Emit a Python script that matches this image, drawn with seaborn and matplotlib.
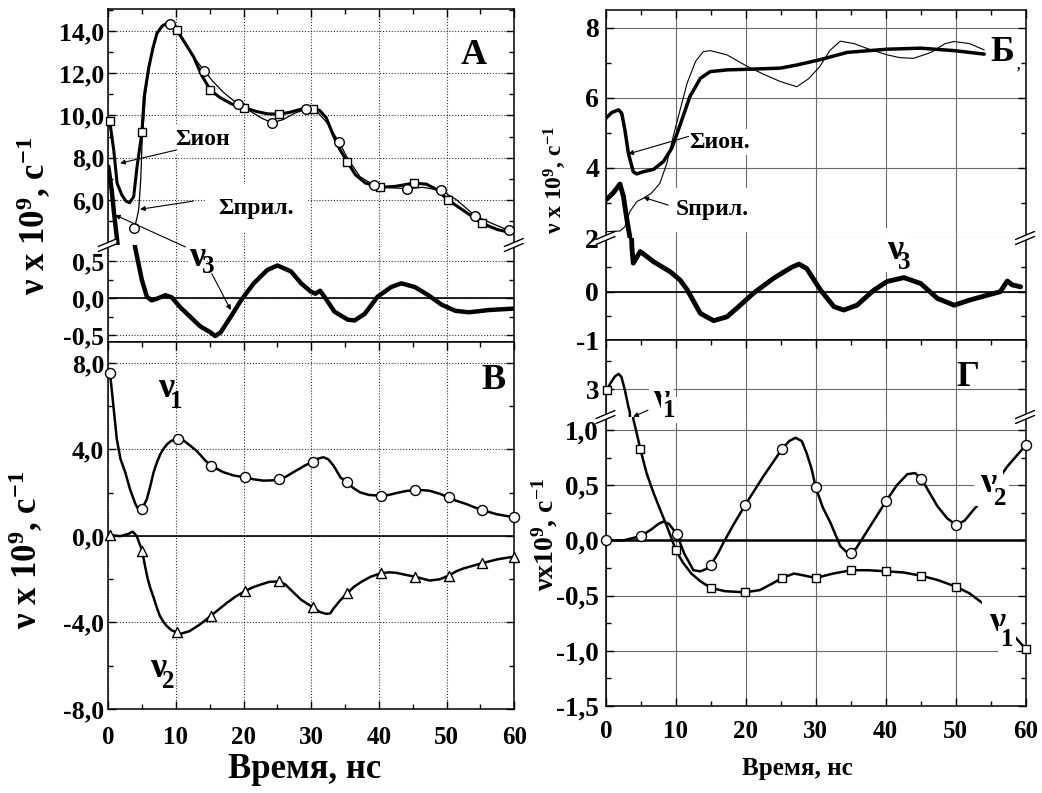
import matplotlib
matplotlib.use("Agg")
import matplotlib.pyplot as plt
import seaborn as sns
from matplotlib.lines import Line2D
from matplotlib.patches import Polygon

# ---------------- data ----------------
x_ticks = [0, 10, 20, 30, 40, 50, 60]
x_tick_labels = ["0", "10", "20", "30", "40", "50", "60"]
x_minor = [5, 15, 25, 35, 45, 55]

# Panel A (upper: sums, lower: nu3)
a_ion_x = [0.2, 0.8, 1.3, 2.0, 2.6, 3.15, 3.75, 4.25, 4.97, 5.3, 6.0, 6.6, 7.2, 8.0, 8.8, 9.5, 10.1, 11.2, 12.6, 13.8,
           15.1, 16.5, 18.2, 20.1, 22.0, 23.5, 25.2, 26.8, 28.5, 30.2, 31.2, 32.2, 33.2, 34.2, 35.3, 36.5, 38.0, 40.2,
           42.5, 45.2, 47.0, 48.5, 50.2, 52.5, 55.2, 57.5, 60.0]
a_ion_y = [9.75, 8.37, 6.79, 6.24, 5.95, 5.87, 6.16, 7.58, 9.20, 10.9, 12.3, 13.2, 13.9, 14.25, 14.37, 14.3, 14.05, 13.5,
           12.78, 11.9, 11.2, 10.85, 10.55, 10.37, 10.18, 10.08, 10.06, 10.15, 10.3, 10.3, 10.25, 9.9, 9.1, 8.4, 7.82,
           7.2, 6.8, 6.6, 6.65, 6.8, 6.75, 6.5, 6.0, 5.5, 4.9, 4.6, 4.42]
a_ion_mx = [0.2, 4.97, 10.1, 15.1, 20.1, 25.2, 30.2, 35.3, 40.2, 45.2, 50.2, 55.2]
a_ion_my = [9.75, 9.2, 14.05, 11.2, 10.37, 10.06, 10.3, 7.82, 6.6, 6.8, 6.0, 4.9]

a_pril_x = [3.83, 4.2, 4.5, 4.8, 5.0, 5.5, 6.2, 7.2, 8.2, 9.1, 10.2, 11.5, 12.8, 14.2, 15.5, 17.0, 19.1, 21.0, 22.8,
            24.2, 25.8, 27.5, 29.2, 30.8, 32.2, 34.1, 35.5, 37.2, 39.2, 41.5, 44.2, 46.5, 49.2, 51.5, 54.2, 57.0,
            59.2, 60.0]
a_pril_y = [4.69, 5.1, 5.56, 7.0, 8.8, 11.0, 12.6, 13.9, 14.3, 14.35, 14.0, 13.3, 12.7, 12.1, 11.6, 11.1, 10.55, 10.2,
            9.85, 9.66, 9.8, 10.1, 10.3, 10.2, 9.7, 8.74, 7.9, 7.1, 6.72, 6.58, 6.54, 6.6, 6.45, 6.0, 5.25, 4.85,
            4.56, 4.45]
a_pril_mx = [3.83, 9.1, 14.2, 19.1, 24.2, 29.2, 34.1, 39.2, 44.2, 49.2, 54.2, 59.2]
a_pril_my = [4.69, 14.35, 12.1, 10.55, 9.66, 10.3, 8.74, 6.72, 6.54, 6.45, 5.25, 4.56]

a_nu3_x = [0.0, 0.5, 0.85, 1.25, 1.5, 3.7, 3.95, 4.95, 5.7, 6.4, 7.4, 8.4, 9.4, 10.6, 12.1, 13.6, 15.1, 15.8, 16.6,
           18.1, 19.6, 21.5, 23.5, 25.0, 27.0, 28.5, 29.9, 30.6, 31.3, 32.1, 33.4, 35.4, 36.4, 37.9, 39.8, 41.8,
           43.3, 45.3, 47.3, 49.3, 51.3, 53.3, 56.2, 60.0]
a_nu3_y = [7.58, 6.47, 5.37, 4.26, 3.5, 0.9, 0.69, 0.25, 0.02, -0.03, 0.0, 0.04, 0.01, -0.12, -0.25, -0.38, -0.46,
           -0.51, -0.46, -0.25, -0.03, 0.2, 0.38, 0.44, 0.36, 0.2, 0.09, 0.06, 0.1, 0.0, -0.18, -0.29, -0.3, -0.21,
           0.02, 0.15, 0.2, 0.15, 0.04, -0.09, -0.17, -0.19, -0.16, -0.14]

a_top_ticks = [6, 8, 10, 12, 14]
a_top_labels = ["6,0", "8,0", "10,0", "12,0", "14,0"]
a_bot_ticks = [-0.5, 0.0, 0.5]
a_bot_labels = ["-0,5", "0,0", "0,5"]

# Panel В: nu1, nu2
v_nu1_x = [0.25, 0.75, 1.25, 1.8, 2.5, 3.2, 4.0, 4.5, 5.0, 5.7, 6.2, 6.7, 7.2, 7.7, 8.2, 8.7, 9.3, 10.3, 11.2, 12.1,
           13.0, 13.6, 14.3, 15.2, 16.2, 17.0, 18.5, 20.2, 21.5, 22.9, 24.2, 25.3, 26.3, 27.3, 28.2, 29.0, 30.2,
           31.0, 31.8, 32.5, 33.3, 34.3, 35.3, 36.2, 37.2, 38.5, 40.3, 41.5, 42.5, 44.0, 45.3, 46.5, 47.5, 49.0,
           50.3, 51.5, 52.9, 54.0, 55.2, 57.5, 60.0]
v_nu1_y = [7.54, 6.03, 4.49, 3.56, 2.95, 2.17, 1.48, 1.2, 1.25, 1.71, 2.3, 2.95, 3.42, 3.79, 4.05, 4.25, 4.4, 4.49,
           4.4, 4.18, 3.95, 3.75, 3.5, 3.25, 3.08, 2.95, 2.8, 2.71, 2.62, 2.56, 2.57, 2.63, 2.75, 2.94, 3.1, 3.25,
           3.43, 3.58, 3.64, 3.55, 3.25, 2.71, 2.48, 2.22, 2.02, 1.9, 1.86, 1.9, 1.98, 2.08, 2.12, 2.12, 2.09, 1.95,
           1.78, 1.62, 1.48, 1.34, 1.2, 1.0, 0.86]
v_nu1_mx = [0.25, 5.0, 10.3, 15.2, 20.2, 25.3, 30.2, 35.3, 40.3, 45.3, 50.3, 55.2, 60.0]
v_nu1_my = [7.54, 1.25, 4.49, 3.25, 2.71, 2.63, 3.43, 2.48, 1.86, 2.12, 1.78, 1.2, 0.86]

v_nu2_x = [0.25, 1.75, 3.0, 3.6, 4.2, 5.0, 5.4, 5.8, 6.2, 6.7, 7.1, 7.6, 8.1, 8.6, 9.3, 10.6, 12.0, 13.5, 15.2, 16.3,
           17.5, 18.8, 20.2, 21.3, 22.5, 23.8, 25.3, 26.2, 27.0, 28.5, 30.2, 31.3, 32.2, 32.8, 33.3, 34.2, 35.3,
           36.3, 37.5, 38.8, 40.3, 41.5, 42.5, 44.0, 45.3, 46.5, 47.5, 49.0, 50.3, 51.5, 52.5, 55.2, 57.5, 60.0]
v_nu2_y = [0.05, -0.01, 0.1, 0.2, 0.0, -0.68, -1.35, -1.95, -2.4, -2.85, -3.25, -3.68, -3.95, -4.15, -4.35, -4.53,
           -4.4, -4.1, -3.68, -3.4, -3.1, -2.8, -2.55, -2.38, -2.25, -2.12, -2.1, -2.25, -2.5, -2.95, -3.29, -3.52,
           -3.6, -3.58, -3.35, -3.0, -2.65, -2.35, -2.1, -1.88, -1.72, -1.68, -1.7, -1.8, -1.88, -1.98, -2.06, -2.0,
           -1.83, -1.62, -1.5, -1.26, -1.08, -0.95]
v_nu2_mx = [0.25, 5.0, 10.2, 15.2, 20.2, 25.3, 30.2, 35.3, 40.3, 45.3, 50.3, 55.2, 60.0]
v_nu2_my = [0.05, -0.68, -4.45, -3.68, -2.55, -2.1, -3.29, -2.65, -1.72, -1.88, -1.83, -1.26, -0.95]

v_ticks = [-8, -4, 0, 4, 8]
v_labels = ["-8,0", "-4,0", "0,0", "4,0", "8,0"]

# Panel Б
b_ion_x = [0.0, 0.8, 1.8, 2.25, 2.7, 3.2, 3.9, 4.4, 5.3, 6.8, 8.2, 9.4, 10.6, 12.0, 13.5, 14.9, 17.3, 20.6, 24.9,
           27.3, 30.6, 34.5, 40.2, 45.0, 49.8, 54.1]
b_ion_y = [5.42, 5.58, 5.66, 5.56, 5.09, 4.42, 3.89, 3.83, 3.89, 3.96, 4.18, 4.56, 5.23, 6.04, 6.56, 6.75, 6.8, 6.82,
           6.85, 6.94, 7.09, 7.3, 7.39, 7.42, 7.35, 7.25]
b_pril_x = [0.0, 2.0, 2.7, 3.4, 4.4, 5.3, 6.5, 7.7, 8.7, 9.6, 10.6, 11.6, 12.8, 13.9, 14.9, 17.3, 20.2, 22.5, 24.9,
            27.3, 29.0, 30.6, 32.0, 33.5, 35.5, 37.5, 40.2, 42.0, 44.0, 46.5, 48.5, 49.8, 52.0, 54.1]
b_pril_y = [2.18, 2.2, 2.32, 2.75, 3.04, 3.13, 3.28, 3.56, 4.13, 4.89, 5.66, 6.42, 7.04, 7.32, 7.35, 7.23, 6.9, 6.68,
            6.47, 6.32, 6.55, 6.9, 7.35, 7.62, 7.55, 7.4, 7.23, 7.15, 7.13, 7.3, 7.55, 7.61, 7.55, 7.37]
b_nu3_x = [0.0, 1.0, 2.0, 2.5, 3.0, 3.4, 3.7, 3.9, 4.9, 6.8, 9.2, 10.6, 11.6, 13.5, 15.4, 17.3, 19.2, 21.1, 24.0,
           26.5, 27.6, 28.7, 30.7, 32.6, 34.0, 35.9, 38.3, 40.2, 42.6, 45.0, 47.4, 49.8, 52.1, 56.4, 57.4, 58.1, 59.3]
b_nu3_y = [3.09, 3.28, 3.54, 3.18, 2.51, 2.04, 0.93, 0.59, 0.83, 0.62, 0.41, 0.24, 0.04, -0.45, -0.6, -0.52, -0.28,
           -0.03, 0.28, 0.5, 0.57, 0.48, 0.03, -0.31, -0.38, -0.28, 0.03, 0.21, 0.29, 0.17, -0.14, -0.28, -0.17, 0.0,
           0.22, 0.14, 0.1]
b_top_ticks = [2, 4, 6, 8]
b_top_labels = ["2", "4", "6", "8"]
b_bot_ticks = [-1, 0]
b_bot_labels = ["-1", "0"]

# Panel Г
g_nu1_x = [0.1, 0.6, 1.3, 1.8, 2.2, 2.7, 3.2, 3.4, 3.9, 4.4, 4.9, 5.8, 6.8, 7.8, 8.7, 10.0, 11.0, 12.2, 13.5, 15.0,
           17.0, 19.9, 22.0, 23.8, 25.2, 26.9, 28.5, 30.0, 32.5, 35.1, 37.5, 40.1, 42.5, 45.1, 47.5, 50.1, 52.0,
           54.1, 56.0, 58.0, 60.0]
g_nu1_y = [2.99, 3.1, 3.23, 3.27, 3.22, 2.99, 2.7, 2.61, 1.1, 0.97, 0.83, 0.61, 0.43, 0.27, 0.13, -0.09, -0.2, -0.3,
           -0.37, -0.43, -0.46, -0.47, -0.45, -0.39, -0.34, -0.3, -0.32, -0.34, -0.3, -0.27, -0.27, -0.28, -0.29,
           -0.32, -0.36, -0.42, -0.48, -0.58, -0.7, -0.84, -0.98]
g_nu1_top_mx = [0.1]
g_nu1_top_my = [2.99]
g_nu1_mx = [4.9, 10.0, 15.0, 19.9, 25.2, 30.0, 35.1, 40.1, 45.1, 50.1, 60.0]
g_nu1_my = [0.83, -0.09, -0.43, -0.47, -0.34, -0.34, -0.27, -0.28, -0.32, -0.42, -0.98]
g_nu2_x = [0.0, 2.5, 5.0, 6.5, 7.5, 8.2, 9.0, 10.1, 11.2, 12.5, 13.5, 14.3, 15.0, 16.0, 16.8, 18.3, 19.9, 21.2, 22.5,
           23.8, 25.2, 26.2, 27.1, 28.0, 28.7, 29.4, 30.0, 31.0, 32.1, 33.5, 34.3, 35.1, 35.8, 36.5, 38.3, 40.1,
           41.6, 43.1, 44.2, 45.1, 46.2, 47.4, 48.8, 50.1, 51.3, 52.6, 55.0, 57.4, 60.0]
g_nu2_y = [0.0, 0.0, 0.04, 0.1, 0.15, 0.17, 0.15, 0.06, -0.12, -0.27, -0.28, -0.26, -0.22, -0.12, -0.02, 0.15, 0.32,
           0.45, 0.58, 0.7, 0.83, 0.9, 0.93, 0.9, 0.79, 0.65, 0.48, 0.3, 0.16, -0.05, -0.1, -0.11, -0.07, 0.0, 0.18,
           0.36, 0.5, 0.6, 0.61, 0.56, 0.44, 0.31, 0.2, 0.14, 0.18, 0.28, 0.45, 0.67, 0.86]
g_nu2_mx = [0.0, 5.0, 10.1, 15.0, 19.9, 25.2, 30.0, 35.1, 40.1, 45.1, 50.1, 60.0]
g_nu2_my = [0.0, 0.04, 0.06, -0.22, 0.32, 0.83, 0.48, -0.11, 0.36, 0.56, 0.14, 0.86]
g_top_ticks = [3]
g_top_labels = ["3"]
g_bot_ticks = [-1.5, -1.0, -0.5, 0.0, 0.5, 1.0]
g_bot_labels = ["-1,5", "-1,0", "-0,5", "0,0", "0,5", "1,0"]

# ---------------- style ----------------
sns.set_theme(style="white")
plt.rcParams.update({
    "font.family": ["Liberation Serif", "DejaVu Serif"],
    "font.weight": "bold",
    "mathtext.fontset": "custom",
    "mathtext.rm": "Liberation Serif:bold",
    "mathtext.it": "Liberation Serif:bold:italic",
    "mathtext.bf": "Liberation Serif:bold",
    "mathtext.default": "rm",
    "axes.edgecolor": "black",
    "axes.linewidth": 1.1,
    "text.color": "black",
    "xtick.color": "black",
    "ytick.color": "black",
})

W, H = 1042, 793
fig = plt.figure(figsize=(W / 100, H / 100), dpi=100)


def px_axes(x0, y0, x1, y1):
    return fig.add_axes([x0 / W, 1 - y1 / H, (x1 - x0) / W, (y1 - y0) / H])


def style(ax, ylim, yt, yl, ymin, dotted, tsize, xlab=False, top=True, bottom=True,
          sp_top=True, sp_bot=True, xpad=12, ypad=3, xsize=18):
    ax.set_xlim(0, 60)
    ax.set_ylim(*ylim)
    ax.set_xticks(x_ticks)
    ax.set_xticks(x_minor, minor=True)
    ax.set_yticks(yt)
    ax.set_yticklabels(yl)
    ax.set_yticks(ymin, minor=True)
    if xlab:
        ax.set_xticklabels(x_tick_labels)
    else:
        ax.set_xticklabels([])
    ax.tick_params(which="both", direction="in", top=top, bottom=bottom, left=True, right=True,
                   width=1.0, color="black")
    ax.tick_params(which="major", length=6)
    ax.tick_params(which="minor", length=3.5)
    ax.tick_params(axis="y", labelsize=tsize, pad=ypad)
    ax.tick_params(axis="x", labelsize=xsize, pad=xpad)
    for t in ax.get_xticklabels() + ax.get_yticklabels():
        t.set_fontweight("bold")
    ax.spines["top"].set_visible(sp_top)
    ax.spines["bottom"].set_visible(sp_bot)
    for s in ax.spines.values():
        s.set_linewidth(1.1)
        s.set_color("black")
    if dotted:
        ax.grid(True, which="major", linestyle=(0, (1, 1.6)), color="#333333", linewidth=0.8)
    else:
        ax.grid(True, which="major", linestyle="-", color="#6a6a6a", linewidth=0.8)
    ax.set_axisbelow(True)
    ax.set_xlabel("")
    ax.set_ylabel("")


def line(ax, x, y, lw):
    sns.lineplot(x=x, y=y, ax=ax, color="black", linewidth=lw, sort=False, estimator=None,
                 legend=False, zorder=3)


def marks(ax, x, y, m, s):
    sns.scatterplot(x=x, y=y, ax=ax, marker=m, s=s, color="white", edgecolor="black",
                    linewidth=1.0, zorder=5, clip_on=False, legend=False)


def wbox(pad):
    return dict(facecolor="white", edgecolor="none", pad=pad)


def arrow(ax, xy, xytext):
    ax.annotate("", xy=xy, xytext=xytext, annotation_clip=False,
                arrowprops=dict(arrowstyle="-|>", color="black", lw=0.8, mutation_scale=7,
                                shrinkA=0, shrinkB=0), zorder=6)


def brk(x, y):
    # break mark "//" at figure pixel (x, y) measured from top-left
    def p(xx, yy):
        return (xx / W, 1 - yy / H)
    poly = Polygon([p(x - 9, y + 1), p(x + 8, y - 6), p(x + 8, y - 1), p(x - 9, y + 6)],
                   closed=True, transform=fig.transFigure, facecolor="white", edgecolor="none", zorder=20)
    fig.add_artist(poly)
    for dy in (0, 5):
        a, b = p(x - 10, y + 1.5 + dy), p(x + 9, y - 6.5 + dy)
        fig.add_artist(Line2D([a[0], b[0]], [a[1], b[1]], transform=fig.transFigure,
                              color="black", lw=1.0, zorder=21))


# ---------------- axes ----------------
LX0, LX1 = 108.3, 514.3
RX0, RX1 = 606.0, 1025.5
ax_at = px_axes(LX0, 9, LX1, 245)
ax_ab = px_axes(LX0, 245, LX1, 342)
ax_v = px_axes(LX0, 342, LX1, 709)
ax_bt = px_axes(RX0, 10, RX1, 238)
ax_bb = px_axes(RX0, 238, RX1, 340)
ax_gt = px_axes(RX0, 340, RX1, 417)
ax_gb = px_axes(RX0, 417, RX1, 706)

# ----- Panel A -----
for ax in (ax_at, ax_ab):
    line(ax, a_nu3_x, a_nu3_y, 3.2)
line(ax_at, a_ion_x, a_ion_y, 2.2)
line(ax_at, a_pril_x, a_pril_y, 0.9)
marks(ax_at, a_ion_mx, a_ion_my, "s", 38)
marks(ax_at, a_pril_mx, a_pril_my, "o", 48)
style(ax_at, (3.87, 15.04), a_top_ticks, a_top_labels, [5, 7, 9, 11, 13, 15], True, 18.5,
      bottom=False, sp_bot=False)
style(ax_ab, (-0.59, 0.716), a_bot_ticks, a_bot_labels, [-0.25, 0.25], True, 18.5,
      top=False, bottom=False, sp_top=False)
ax_ab.axhline(0, color="black", lw=1.2, zorder=2)
ax_at.text(54.0, 12.86, "A", fontsize=26, ha="center", va="center")
ax_at.text(13.9, 8.84, "Σион", fontsize=17, ha="center", va="center", bbox=wbox(3), zorder=4)
ax_at.text(21.9, 5.62, "Σприл.", fontsize=17, ha="center", va="center", bbox=wbox(10), zorder=4)
arrow(ax_at, (1.74, 7.74), (10.1, 8.37))
arrow(ax_at, (4.7, 5.56), (12.6, 5.95))
ax_ab.text(13.2, 0.55, "ν", fontsize=26, ha="center", va="center", bbox=wbox(1), zorder=4)
ax_ab.text(14.8, 0.42, "3", fontsize=18, ha="center", va="center", zorder=4)
arrow(ax_ab, (1.0, 1.12), (11.4, 0.69))
arrow(ax_ab, (18.1, -0.16), (15.3, 0.33))

# ----- Panel В -----
line(ax_v, v_nu1_x, v_nu1_y, 1.8)
line(ax_v, v_nu2_x, v_nu2_y, 1.8)
marks(ax_v, v_nu1_mx, v_nu1_my, "o", 52)
marks(ax_v, v_nu2_mx, v_nu2_my, "^", 52)
style(ax_v, (-8, 8.97), v_ticks, v_labels, [-6, -2, 2, 6], True, 18.5, xlab=True)
ax_v.axhline(0, color="black", lw=1.2, zorder=2)
ax_v.text(57.0, 7.17, "В", fontsize=26, ha="center", va="center")
ax_v.text(8.6, 6.84, "ν", fontsize=26, ha="center", va="center")
ax_v.text(10.1, 6.2, "1", fontsize=18, ha="center", va="center")
ax_v.text(7.3, -6.15, "ν", fontsize=26, ha="center", va="center")
ax_v.text(8.9, -6.75, "2", fontsize=18, ha="center", va="center")

# ----- Panel Б -----
for ax in (ax_bt, ax_bb):
    line(ax, b_nu3_x, b_nu3_y, 3.5)
line(ax_bt, b_ion_x, b_ion_y, 2.5)
line(ax_bt, b_pril_x, b_pril_y, 0.8)
style(ax_bt, (2.0, 8.51), b_top_ticks, b_top_labels, [3, 5, 7], False, 20,
      bottom=False, sp_bot=False, ypad=5)
style(ax_bb, (-1.0, 1.11), b_bot_ticks, b_bot_labels, [-0.5, 0.5], False, 20,
      top=False, bottom=False, sp_top=False, ypad=5)
ax_bb.axhline(0, color="black", lw=1.2, zorder=2)
ax_bt.text(56.7, 7.31, "Б", fontsize=26, ha="center", va="center")
ax_bt.text(59.0, 6.95, ",", fontsize=10, ha="center", va="center")
ax_bt.text(16.2, 4.74, "Σион.", fontsize=17, ha="center", va="center", bbox=wbox(2), zorder=4)
ax_bt.text(15.2, 2.8, "Sприл.", fontsize=17, ha="center", va="center", bbox=wbox(8), zorder=4)
arrow(ax_bt, (3.2, 4.4), (11.8, 4.9))
arrow(ax_bt, (5.35, 3.16), (8.9, 2.94))
ax_bb.text(41.4, 0.86, "ν", fontsize=26, ha="center", va="center", bbox=wbox(4), zorder=4)
ax_bb.text(42.6, 0.6, "3", fontsize=18, ha="center", va="center", zorder=4)

# ----- Panel Г -----
for ax in (ax_gt, ax_gb):
    line(ax, g_nu1_x, g_nu1_y, 1.8)
line(ax_gb, g_nu2_x, g_nu2_y, 1.8)
marks(ax_gt, g_nu1_top_mx, g_nu1_top_my, "s", 38)
marks(ax_gb, g_nu1_mx, g_nu1_my, "s", 38)
marks(ax_gb, g_nu2_mx, g_nu2_my, "o", 52)
style(ax_gt, (2.52, 3.86), g_top_ticks, g_top_labels, [3.5], False, 19.5,
      bottom=False, sp_bot=False, ypad=5)
style(ax_gb, (-1.5, 1.118), g_bot_ticks, g_bot_labels, [-1.25, -0.75, -0.25, 0.25, 0.75], False, 19.5,
      xlab=True, top=False, sp_top=False, ypad=5, xpad=10)
ax_gb.axhline(0, color="black", lw=1.8, zorder=2)
ax_gt.text(51.8, 3.2, "Г", fontsize=26, ha="center", va="center")
ax_gt.text(7.9, 2.83, "ν", fontsize=26, ha="center", va="center", bbox=wbox(3), zorder=7)
ax_gb.text(9.0, 1.18, "1", fontsize=18, ha="center", va="center", bbox=wbox(1), zorder=7)
arrow(ax_gb, (3.9, 1.12), (6.0, 1.18))
ax_gb.text(54.7, 0.52, "ν", fontsize=26, ha="center", va="center", bbox=wbox(5), zorder=7)
ax_gb.text(56.4, 0.38, "2", fontsize=18, ha="center", va="center", bbox=wbox(2), zorder=7)
ax_gb.text(55.9, -0.74, "ν", fontsize=26, ha="center", va="center", bbox=wbox(5), zorder=7)
ax_gb.text(57.4, -0.9, "1", fontsize=18, ha="center", va="center", bbox=wbox(2), zorder=7)

# ---------------- break marks ----------------
for (bx, by) in [(LX0, 245), (LX1, 245), (RX0, 238), (RX1, 238), (RX0, 417), (RX1, 417)]:
    brk(bx, by)

# ---------------- axis titles ----------------
fig.text(34 / W, 1 - 216 / H, "ν x 10$^{9}$, с$^{-1}$", rotation=90, fontsize=25,
         ha="center", va="center")
fig.text(26 / W, 1 - 550 / H, "ν x 10$^{9}$, с$^{-1}$", rotation=90, fontsize=25,
         ha="center", va="center")
fig.text(555 / W, 1 - 180 / H, "ν x 10$^{9}$, с$^{-1}$", rotation=90, fontsize=17,
         ha="center", va="center")
fig.text(545 / W, 1 - 535 / H, "νx10$^{9}$, с$^{-1}$", rotation=90, fontsize=20,
         ha="center", va="center")
fig.text(305 / W, 1 - 770 / H, "Время, нс", fontsize=25, ha="center", va="center")
fig.text(797 / W, 1 - 769 / H, "Время, нс", fontsize=18, ha="center", va="center")

fig.savefig("out.png", dpi=100, facecolor="white")
